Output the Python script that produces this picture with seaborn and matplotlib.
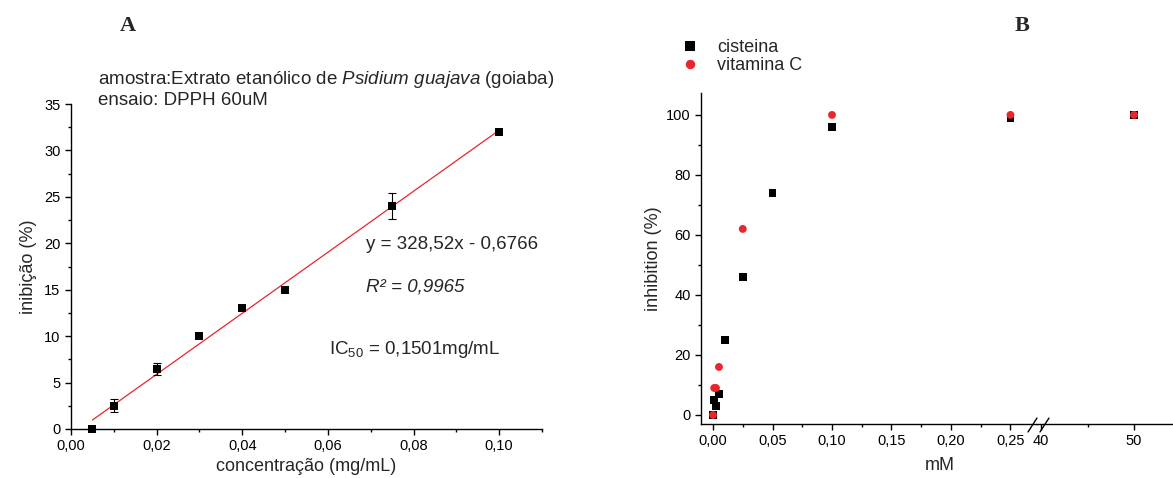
import numpy as np
import pandas as pd
import matplotlib
matplotlib.use('Agg')
import matplotlib.pyplot as plt
import seaborn as sns
from matplotlib.ticker import MultipleLocator, FuncFormatter

# painel A: extrato etanolico de goiaba (DPPH)
conc = [0.005, 0.01, 0.02, 0.03, 0.04, 0.05, 0.075, 0.10]
inib = [0.0, 2.5, 6.5, 10.0, 13.0, 15.0, 24.0, 32.0]
inib_err = [0.0, 0.7, 0.65, 0.0, 0.0, 0.0, 1.4, 0.0]
fit_slope = 328.52
fit_intercept = -0.6766

# painel B: padroes
cis_mm = [0.0, 0.001, 0.0025, 0.005, 0.01, 0.025, 0.05, 0.10, 0.25, 50.0]
cis_inh = [0.0, 5.0, 3.0, 7.0, 25.0, 46.0, 74.0, 96.0, 99.0, 100.0]
vitc_mm = [0.0, 0.001, 0.0025, 0.005, 0.025, 0.10, 0.25, 50.0]
vitc_inh = [0.0, 9.0, 9.0, 16.0, 62.0, 100.0, 100.0, 100.0]

sns.set_style('ticks')
plt.rcParams['font.family'] = ['Liberation Sans', 'DejaVu Sans']
plt.rcParams['mathtext.fontset'] = 'custom'
plt.rcParams['mathtext.rm'] = 'Liberation Sans'
plt.rcParams['mathtext.it'] = 'Liberation Sans:italic'
plt.rcParams['axes.linewidth'] = 1.0
plt.rcParams['axes.edgecolor'] = 'black'
for a in ('x', 'y'):
    plt.rcParams[a + 'tick.direction'] = 'out'
    plt.rcParams[a + 'tick.major.size'] = 4
    plt.rcParams[a + 'tick.minor.size'] = 2.5
    plt.rcParams[a + 'tick.major.width'] = 1.0
    plt.rcParams[a + 'tick.minor.width'] = 1.0
    plt.rcParams[a + 'tick.color'] = 'black'
    plt.rcParams[a + 'tick.labelsize'] = 10.5

RED = '#e8262b'
W, H = 1173, 478


def box(l, t, r, b):
    return [l / W, 1 - b / H, (r - l) / W, (b - t) / H]


comma2 = FuncFormatter(lambda v, p: f'{v:.2f}'.replace('.', ','))
fig = plt.figure(figsize=(W / 100, H / 100), dpi=100)

# ---- A ----
axA = fig.add_axes(box(71, 104, 542, 429))
sns.despine(ax=axA)
fx = np.array([min(conc), max(conc)])
sns.lineplot(x=fx, y=fit_slope * fx + fit_intercept, color=RED, lw=0.9, ax=axA)
e = np.array(inib_err)
m = e > 0
axA.errorbar(np.array(conc)[m], np.array(inib)[m], yerr=e[m], fmt='none',
             ecolor='black', elinewidth=0.8, capsize=3, capthick=0.8, zorder=2)
sns.scatterplot(x=conc, y=inib, marker='s', color='black', s=28, linewidth=0,
                ax=axA, clip_on=False, zorder=3)
axA.set_xlim(0, 0.11)
axA.set_ylim(0, 35)
axA.xaxis.set_major_locator(MultipleLocator(0.02))
axA.xaxis.set_minor_locator(MultipleLocator(0.01))
axA.yaxis.set_major_locator(MultipleLocator(5))
axA.yaxis.set_minor_locator(MultipleLocator(2.5))
axA.xaxis.set_major_formatter(comma2)
axA.set_xlabel('concentração (mg/mL)', fontsize=13, labelpad=3)
axA.set_ylabel('inibição (%)', fontsize=13, labelpad=5)

axA.text(0.0063, 37.6, r'amostra:Extrato etanólico de $\it{Psidium\ guajava}$ (goiaba)',
         fontsize=13.5, va='center', clip_on=False)
axA.text(0.0063, 35.4, 'ensaio: DPPH 60uM', fontsize=13.5, va='center', clip_on=False)
axA.text(0.069, 19.9, 'y = 328,52x - 0,6766', fontsize=13.5, va='center')
axA.text(0.069, 15.3, 'R² = 0,9965', fontsize=13.5, va='center', style='italic')
axA.text(0.0603, 8.6, r'IC$_{50}$ = 0,1501mg/mL', fontsize=13.5, va='center')

# ---- B (eixo x quebrado) ----
df = pd.DataFrame({
    'mM': cis_mm + vitc_mm,
    'inh': cis_inh + vitc_inh,
    'amostra': ['cisteina'] * len(cis_mm) + ['vitamina C'] * len(vitc_mm),
})
pal = {'cisteina': 'black', 'vitamina C': RED}
mk = {'cisteina': 's', 'vitamina C': 'o'}

axB1 = fig.add_axes(box(701, 93, 1037, 424))
axB2 = fig.add_axes(box(1037, 93, 1173, 424))
for ax in (axB1, axB2):
    sns.scatterplot(data=df, x='mM', y='inh', hue='amostra', style='amostra',
                    palette=pal, markers=mk, s=32, linewidth=0, ax=ax,
                    legend=(ax is axB1))
    ax.set_ylim(-3, 107.3)
    ax.set_xlabel('')
    ax.set_ylabel('')

sns.despine(ax=axB1)
sns.despine(ax=axB2, left=True)
axB1.set_xlim(-0.0101, 0.2723)
axB1.xaxis.set_major_locator(MultipleLocator(0.05))
axB1.xaxis.set_minor_locator(MultipleLocator(0.025))
axB1.yaxis.set_major_locator(MultipleLocator(20))
axB1.yaxis.set_minor_locator(MultipleLocator(10))
axB1.xaxis.set_major_formatter(comma2)
axB1.set_ylabel('inhibition (%)', fontsize=13, labelpad=3)

axB2.set_xlim(39.57, 54.19)
axB2.xaxis.set_major_locator(MultipleLocator(10))
axB2.xaxis.set_minor_locator(MultipleLocator(5))
axB2.set_yticks([])

# marcas de quebra
for x0 in (-0.066, 0.022):
    axB2.plot([x0, x0 + 0.066], [-0.024, 0.018], color='black', lw=1.0,
              transform=axB2.transAxes, clip_on=False)

fig.text(940 / W, 1 - 466 / H, 'mM', fontsize=13, ha='center', va='center')

sns.move_legend(axB1, 'upper left', bbox_to_anchor=(663 / W, 1 - 30 / H),
                bbox_transform=fig.transFigure, frameon=False, title=None,
                fontsize=13, labelspacing=0.05, handletextpad=0.5,
                borderpad=0, markerscale=1.2)

fig.text(128 / W, 1 - 26 / H, 'A', family='Liberation Serif', weight='bold',
         fontsize=16, ha='center', va='center')
fig.text(1022 / W, 1 - 26 / H, 'B', family='Liberation Serif', weight='bold',
         fontsize=16, ha='center', va='center')

fig.savefig('out.png', dpi=100)
